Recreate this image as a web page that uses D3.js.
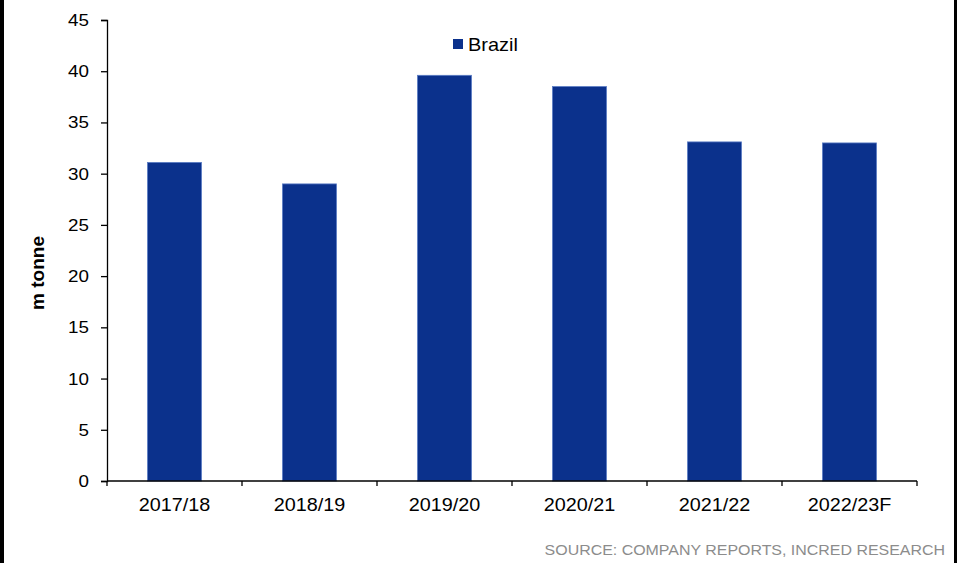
<!DOCTYPE html>
<html>
<head>
<meta charset="utf-8">
<script src="https://cdn.jsdelivr.net/npm/d3@7"></script>
<style>
  html, body { margin: 0; padding: 0; background: #fff; }
  svg { display: block; }
  text { font-family: "Liberation Sans", Arial, sans-serif; }
</style>
</head>
<body>
<svg id="chart" width="960" height="563"></svg>
<script>
// Brazil output by season, million tonnes
const categories = ["2017/18", "2018/19", "2019/20", "2020/21", "2021/22", "2022/23F"];
const values = [31.1, 29.0, 39.6, 38.5, 33.1, 33.0];
const yTicks = [0, 5, 10, 15, 20, 25, 30, 35, 40, 45];
const seriesName = "Brazil";

const svg = d3.select("#chart");
const plotLeft = 107, plotRight = 917, plotTop = 20, plotBottom = 481;

const x = d3.scaleBand().domain(categories).range([plotLeft, plotRight]).paddingInner(0.6).paddingOuter(0.3);
const y = d3.scaleLinear().domain([0, 45]).range([plotBottom, plotTop]);

// text drawn slightly wide, as in the source layout
function wideText(sel, px, py, sx) {
  return sel.attr("x", 0).attr("y", 0)
    .attr("transform", `translate(${px},${py}) scale(${sx},1)`);
}

// side frame bars
svg.append("rect").attr("x", 0).attr("y", 0).attr("width", 4).attr("height", 563).attr("fill", "#000");
svg.append("rect").attr("x", 954).attr("y", 0).attr("width", 3).attr("height", 563).attr("fill", "#000");

// bars
svg.append("g").selectAll("rect").data(values).join("rect")
  .attr("x", (d, i) => x(categories[i]))
  .attr("y", d => y(d))
  .attr("width", x.bandwidth())
  .attr("height", d => y(0) - y(d))
  .attr("fill", "#0b318c")
  .attr("stroke", "#5a7cc4")
  .attr("stroke-width", 0.8);

// y axis (line + ticks from d3, labels placed below)
const yAxis = svg.append("g").attr("transform", `translate(${plotLeft},0)`)
  .call(d3.axisLeft(y).tickValues(yTicks).tickSize(6).tickFormat(""));
yAxis.select(".domain").attr("stroke", "#000").attr("stroke-width", 1.3);
yAxis.selectAll(".tick line").attr("stroke", "#000").attr("stroke-width", 1.3);
svg.append("g").selectAll("text").data(yTicks).join("text")
  .each(function (d) { wideText(d3.select(this), 89, y(d) + 6, 1.14); })
  .attr("text-anchor", "end")
  .attr("font-size", 16.5)
  .attr("fill", "#000")
  .text(d => d);

// x axis with ticks at category boundaries
const xAxisG = svg.append("g").attr("transform", `translate(0,${plotBottom})`);
xAxisG.append("line").attr("x1", plotLeft).attr("x2", plotRight).attr("stroke", "#000").attr("stroke-width", 1.3);
const step = (plotRight - plotLeft) / categories.length;
xAxisG.selectAll("line.tk").data(d3.range(categories.length + 1)).join("line")
  .attr("class", "tk")
  .attr("x1", i => plotLeft + i * step).attr("x2", i => plotLeft + i * step)
  .attr("y1", 0).attr("y2", 5)
  .attr("stroke", "#000").attr("stroke-width", 1.3);
xAxisG.selectAll("text").data(categories).join("text")
  .each(function (d) { wideText(d3.select(this), x(d) + x.bandwidth() / 2, 30, 1.1); })
  .attr("text-anchor", "middle")
  .attr("font-size", 18)
  .attr("fill", "#000")
  .text(d => d);

// axis title
svg.append("text")
  .attr("transform", "translate(43.5,273) rotate(-90)")
  .attr("text-anchor", "middle")
  .attr("font-size", 19)
  .attr("font-weight", "bold")
  .attr("fill", "#000")
  .text("m tonne");

// legend
const legend = svg.append("g").attr("transform", "translate(453,39)");
legend.append("rect").attr("width", 10).attr("height", 10).attr("fill", "#0b318c");
wideText(legend.append("text"), 15, 12, 1.05)
  .attr("font-size", 19).attr("fill", "#000").text(seriesName);

// source note
wideText(svg.append("text"), 945, 555, 1.1)
  .attr("text-anchor", "end")
  .attr("font-size", 14.5)
  .attr("fill", "#8c8c8c")
  .text("SOURCE: COMPANY REPORTS, INCRED RESEARCH");
</script>
</body>
</html>
